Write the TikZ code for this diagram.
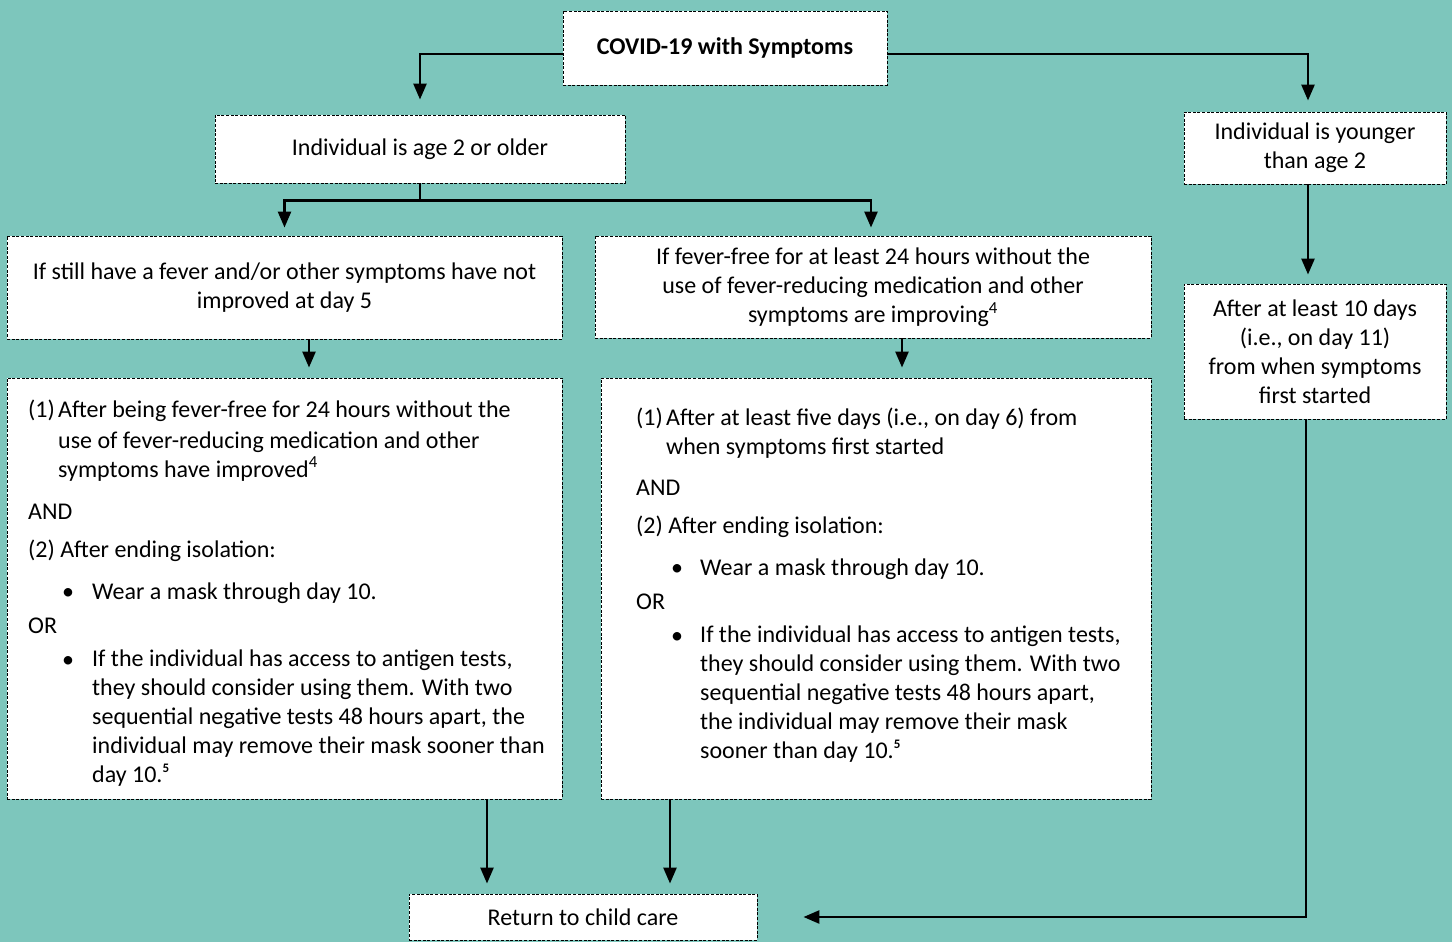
\documentclass[tikz,border=0pt]{standalone}
\usepackage{fontspec}
\setmainfont{Carlito}
\usetikzlibrary{arrows.meta}
\definecolor{bg}{RGB}{125,198,188}
\newcommand{\fnfive}{\textsuperscript{\fontsize{13}{13}\selectfont\bfseries 5}}
\begin{document}
\begin{tikzpicture}[x=1pt,y=-1pt,
 box/.style={draw=black, dash pattern=on 3pt off 1.6pt, line width=0.9pt, fill=white, inner sep=0pt, align=center, font=\fontsize{24}{29}\selectfont},
 ltxt/.style={font=\fontsize{24}{29}\selectfont, inner sep=0pt, anchor=base west, align=left},
 arr/.style={line width=2.6pt, -{Triangle[length=16pt,width=13pt]}},
 ln/.style={line width=2.6pt}]
\fill[bg] (0,0) rectangle (1452,942);
\useasboundingbox (0,0) rectangle (1452,942);

% boxes
\node[box, minimum width=324pt, minimum height=74pt, font=\fontsize{24}{29}\selectfont\bfseries] (covid) at (725,48) {COVID-19 with Symptoms};
\node[box, minimum width=410pt, minimum height=68pt] (age2) at (420,149) {Individual is age 2 or older};
\node[box, minimum width=262pt, minimum height=72pt] (young) at (1315,148) {Individual is younger\\than age 2};
\node[box, minimum width=555pt, minimum height=103pt] (fev) at (284.5,287.5) {If still have a fever and/or other symptoms have not\\improved at day 5};
\node[box, minimum width=556pt, minimum height=102pt] (ffree) at (873,287) {If fever-free for at least 24 hours without the\\use of fever-reducing medication and other\\symptoms are improving\textsuperscript{4}};
\node[box, minimum width=555pt, minimum height=421pt] (lbig) at (284.5,588.5) {};
\node[box, minimum width=550pt, minimum height=421pt] (mbig) at (876,588.5) {};
\node[box, minimum width=262pt, minimum height=135pt] (after) at (1315,351.5) {After at least 10 days\\(i.e., on day 11)\\from when symptoms\\first started};
\node[box, minimum width=348pt, minimum height=46pt] (ret) at (583,917) {Return to child care};

% left big text (base anchor = baseline of last line)
\node[ltxt] (l1n) at (28,417) {(1)};
\node[ltxt] (l1) at (58,477) {After being fever-free for 24 hours without the\\[2pt]use of fever-reducing medication and other\\symptoms have improved\textsuperscript{4}};
\node[ltxt] (land) at (28,519) {AND};
\node[ltxt] (l2) at (28,557) {(2) After ending isolation:};
\node[ltxt, anchor=base] (lb1) at (68,599) {•};
\node[ltxt] (lw) at (92,599) {Wear a mask through day 10.};
\node[ltxt] (lor) at (28,633) {OR};
\node[ltxt, anchor=base] (lb2) at (68,667) {•};
\node[ltxt] (lt) at (92,782) {If the individual has access to antigen tests,\\they should consider using them. With two\\sequential negative tests 48 hours apart, the\\individual may remove their mask sooner than\\day 10.\fnfive};

% middle big text
\node[ltxt] (m1n) at (636,425) {(1)};
\node[ltxt] (m1) at (666,454) {After at least five days (i.e., on day 6) from\\when symptoms first started};
\node[ltxt] (mand) at (636,495) {AND};
\node[ltxt] (m2) at (636,533) {(2) After ending isolation:};
\node[ltxt, anchor=base] (mb1) at (677,575) {•};
\node[ltxt] (mw) at (700,575) {Wear a mask through day 10.};
\node[ltxt] (mor) at (636,609) {OR};
\node[ltxt, anchor=base] (mb2) at (677,643) {•};
\node[ltxt] (mt) at (700,758) {If the individual has access to antigen tests,\\they should consider using them. With two\\sequential negative tests 48 hours apart,\\the individual may remove their mask\\sooner than day 10.\fnfive};

% connectors
\draw[arr, shorten >=15pt] ([yshift=-6pt]covid.west) -| (age2.north);
\draw[arr, shorten >=11pt] ([yshift=-6pt]covid.east) -| ([xshift=-7pt]young.north);
\draw[ln] (age2.south) -- ++(0,17) coordinate (split);
\draw[arr, shorten >=8pt] (split) -| (fev.north);
\draw[arr, shorten >=8pt] (split) -| ([xshift=-2pt]ffree.north);
\draw[arr, shorten >=10pt] ([xshift=24.5pt]fev.south) -- ([xshift=24.5pt]fev.south |- lbig.north);
\draw[arr, shorten >=10pt] ([xshift=29pt]ffree.south) -- ([xshift=29pt]ffree.south |- mbig.north);
\draw[arr, shorten >=9pt] ([xshift=-7pt]young.south) -- ([xshift=-7pt]after.north);
\draw[arr, shorten >=46pt] ([xshift=-9pt]after.south) |- (ret.east);
\draw[arr, shorten >=10pt] ([xshift=202.5pt]lbig.south) -- ([xshift=202.5pt]lbig.south |- ret.north);
\draw[arr, shorten >=10pt] ([xshift=-206pt]mbig.south) -- ([xshift=-206pt]mbig.south |- ret.north);
\end{tikzpicture}
\end{document}
